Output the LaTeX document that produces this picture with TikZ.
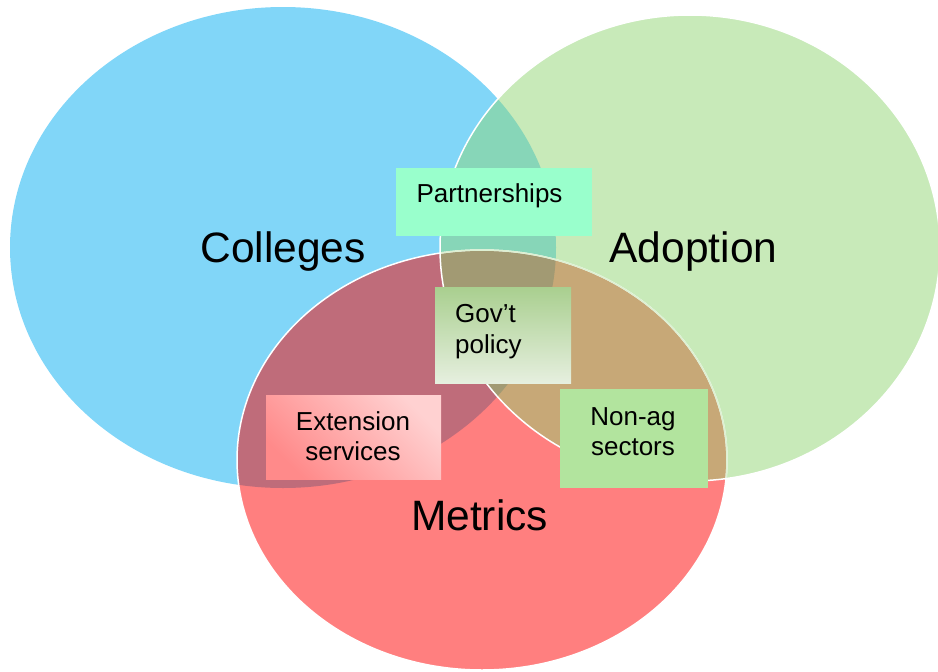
\documentclass[tikz,border=0pt]{standalone}
\usepackage{fontspec}
\setmainfont{Liberation Sans}
\definecolor{cblue}{HTML}{81D6F8}
\definecolor{cgreen}{HTML}{C8EAB9}
\definecolor{cred}{HTML}{FF7F7F}
\definecolor{cteal}{HTML}{87D6B8}
\definecolor{cmauve}{HTML}{BF6C7A}
\definecolor{ctan}{HTML}{C7A877}
\definecolor{ctriple}{HTML}{A29A73}
\definecolor{cpart}{HTML}{99FFCC}
\definecolor{cnonag}{HTML}{B2E49E}
\definecolor{cgovtop}{HTML}{A9CF8F}
\definecolor{cgovbot}{HTML}{E6EFDF}
\definecolor{cextdark}{HTML}{FF8A8A}
\definecolor{cextlight}{HTML}{FFD1D1}
\definecolor{cedgeg}{HTML}{DDF0D2}
\tikzset{
  biglbl/.style={font=\fontsize{42.5}{51}\selectfont, inner sep=0pt, anchor=base, text=black},
  smalllbl/.style={font=\fontsize{26}{31}\selectfont, inner sep=0pt, anchor=base, text=black},
  boxnode/.style={rectangle, draw=none, inner sep=0pt},
  rim/.style={white, line width=1.5pt}
}
\begin{document}
\begin{tikzpicture}[x=1pt,y=-1pt]
\useasboundingbox (0,0) rectangle (938,672);
% base fills
\fill[cblue] (283,247.5) ellipse [x radius=273, y radius=240.5];
\fill[cgreen] (690,248) ellipse [x radius=250, y radius=233];
\fill[cred] (482,460) ellipse [x radius=245, y radius=210];
% overlaps
\begin{scope}
  \clip (283,247.5) ellipse [x radius=273, y radius=240.5];
  \fill[cteal] (690,248) ellipse [x radius=250, y radius=233];
  \fill[cmauve] (482,460) ellipse [x radius=245, y radius=210];
\end{scope}
\begin{scope}
  \clip (690,248) ellipse [x radius=250, y radius=233];
  \fill[ctan] (482,460) ellipse [x radius=245, y radius=210];
\end{scope}
\begin{scope}
  \clip (283,247.5) ellipse [x radius=273, y radius=240.5];
  \clip (690,248) ellipse [x radius=250, y radius=233];
  \fill[ctriple] (482,460) ellipse [x radius=245, y radius=210];
\end{scope}
% outlines
\draw[rim] (482,460) ellipse [x radius=245, y radius=210];
\begin{scope}
  \clip (690,248) ellipse [x radius=250, y radius=233];
  \draw[rim, cedgeg] (482,460) ellipse [x radius=245, y radius=210];
\end{scope}
\draw[rim] (690,248) ellipse [x radius=250, y radius=233];
% big labels
\node[biglbl] (colleges) at (283,262) {Colleges};
\node[biglbl] (adoption) at (693.5,262) {Adoption};
\node[biglbl] (metrics) at (479.5,530) {Metrics};
% boxes
\node[boxnode, fill=cpart, minimum width=196pt, minimum height=68pt] (partbox) at (494,202) {};
\node[boxnode, top color=cgovtop, bottom color=cgovbot, minimum width=136pt, minimum height=96pt] (govbox) at (503,335) {};
\node[boxnode, top color=cextlight, bottom color=cextdark, shading angle=-45, minimum width=175pt, minimum height=84pt] (extbox) at (353.5,437) {};
\node[boxnode, fill=cnonag, minimum width=148pt, minimum height=99pt] (nonagbox) at (634,438.5) {};
% box texts
\node[smalllbl] (partlbl) at (489.5,202) {Partnerships};
\node[smalllbl, anchor=base west] (govlbla) at (455,322) {Gov’t};
\node[smalllbl, anchor=base west] (govlblb) at (455,353) {policy};
\node[smalllbl] (extlbla) at (353,430) {Extension};
\node[smalllbl] (extlblb) at (353,460) {services};
\node[smalllbl] (nonaglbla) at (633,425) {Non-ag};
\node[smalllbl] (nonaglblb) at (633,455) {sectors};
\end{tikzpicture}
\end{document}
